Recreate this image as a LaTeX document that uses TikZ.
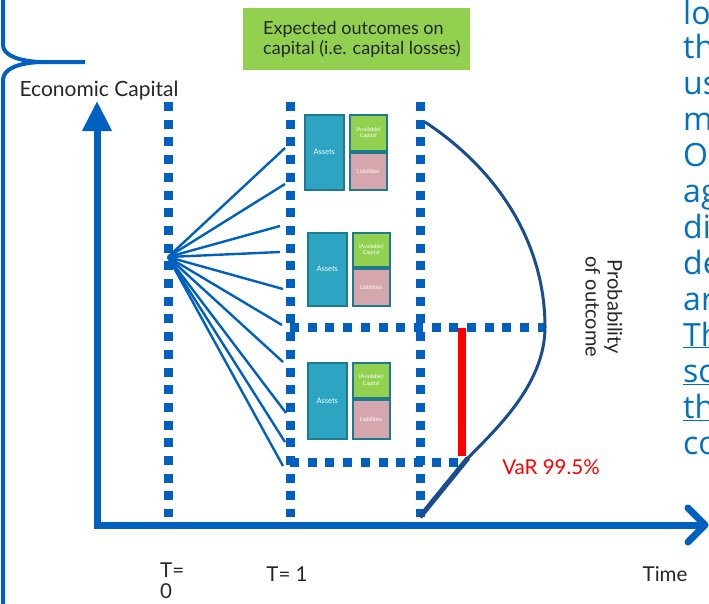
\documentclass[tikz,border=0pt]{standalone}
\usepackage{fontspec}
\setmainfont{Lato}
\newfontfamily\bluefont{Open Sans}
\usetikzlibrary{arrows.meta}
\definecolor{axisblue}{HTML}{0060C0}
\definecolor{curveblue}{HTML}{1A4D8F}
\definecolor{textblue}{HTML}{0070C0}
\definecolor{boxgreen}{HTML}{92D050}
\definecolor{assetteal}{HTML}{2CA4C2}
\definecolor{assetedge}{HTML}{1F7A8C}
\definecolor{liabpink}{HTML}{D5A6AE}
\definecolor{varred}{HTML}{FF0000}
\tikzset{
  axisline/.style={axisblue, line width=7pt},
  dotline/.style={axisblue, line width=9pt, dash pattern=on 9pt off 8.7pt},
  fanline/.style={axisblue, line width=2.4pt},
  assets/.style={draw=assetedge, line width=1.5pt, fill=assetteal, anchor=north west, inner sep=0pt, text=white, font=\fontsize{7.5}{8}\selectfont},
  capital/.style={draw=assetedge, line width=1.5pt, fill=boxgreen, anchor=north west, inner sep=0pt, text=white, align=center, font=\fontsize{5.5}{6.5}\selectfont},
  liab/.style={draw=assetedge, line width=1.5pt, fill=liabpink, anchor=north west, inner sep=0pt, text=white, font=\fontsize{5.5}{6.5}\selectfont},
  lbl/.style={text=black!85, font=\fontsize{20.5}{22}\selectfont, inner sep=0pt},
  bluetxt/.style={text=textblue, anchor=base west, inner sep=0pt, font=\bluefont\fontsize{32}{34}\selectfont}
}
\begin{document}
\begin{tikzpicture}[x=1pt,y=-1pt]
\useasboundingbox (0,0) rectangle (709,603);
% left brace
\draw[axisblue, line width=4pt] (3,-5) -- (3,45) .. controls (3,55) and (18,61) .. (40,62) -- (85,62);
\draw[axisblue, line width=4pt] (3,610) -- (3,80) .. controls (3,69) and (18,63) .. (40,62);
% green box
\node[fill=boxgreen, anchor=north west, minimum width=227pt, minimum height=62pt, inner sep=0pt] (gb) at (243,8) {};
\node[anchor=west, align=left, inner sep=0pt, text=black!85, font=\fontsize{18}{20}\selectfont] (gbt) at (263,39) {Expected outcomes on\\capital (i.e. capital losses)};
% axes
\coordinate (ytop) at (97,101);
\coordinate (orig) at (97,525);
\coordinate (xend) at (705,525);
\draw[axisline, {Triangle[length=30pt 0, width=28pt 0]}-] (ytop) -- (orig) -- (xend);
\draw[axisline, line cap=round, line join=round] (688,508) -- (xend) -- (688,542);
% dotted lines
\draw[dotline] (168,102) -- (168,517);
\draw[dotline] (290,102) -- (290,517);
\draw[dotline] (420,102) -- (420,517);
\draw[dotline] (290,327) -- (545,327);
\draw[dotline] (290,462) -- (458,462);
% fan
\coordinate (F) at (168,257);
\foreach \p in {(285,148),(285,184),(280,226),(280,252),(283,289),(282,325),(283,362),(286,413),(285,442),(283,466)}
  \draw[fanline] (F) -- \p;
% boxes
\node[assets, minimum width=39pt, minimum height=75pt] (a1) at (304,114) {Assets};
\node[capital, minimum width=37pt, minimum height=36pt] (c1) at (349,114) {(Available)\\Capital};
\node[liab, minimum width=37pt, minimum height=37pt] (l1) at (349,152) {Liabilities};
\node[assets, minimum width=39pt, minimum height=73pt] (a2) at (307,232) {Assets};
\node[capital, minimum width=37pt, minimum height=34pt] (c2) at (352,232) {(Available)\\Capital};
\node[liab, minimum width=37pt, minimum height=37pt] (l2) at (352,268) {Liabilities};
\node[assets, minimum width=39pt, minimum height=76pt] (a3) at (307,362) {Assets};
\node[capital, minimum width=37pt, minimum height=35pt] (c3) at (352,362) {(Available)\\Capital};
\node[liab, minimum width=37pt, minimum height=39pt] (l3) at (352,399) {Liabilities};
% curve
\coordinate (ctop) at (425,122);
\coordinate (cpeak) at (545,327);
\coordinate (cvar) at (466,460);
\coordinate (cbot) at (420,517);
\draw[curveblue, line width=3pt] (ctop) .. controls (505,175) and (545,250) .. (cpeak) .. controls (545,385) and (495,430) .. (cvar) -- (cbot);
\draw[curveblue, line width=5pt] (468,458) -- (cbot);
% red VaR
\draw[varred, line width=8pt] (462,328) -- (462,456);
% labels
\node[lbl, font=\fontsize{21}{22}\selectfont] (ec) at (99,91) {Economic Capital};
\node[lbl, rotate=-90, align=center, font=\fontsize{20}{22}\selectfont] (prob) at (604,307) {Probability\\of outcome};
\node[lbl, text=varred] (var) at (551,467) {VaR 99.5\%};
\node[lbl, anchor=north west, align=left, font=\fontsize{20.5}{21}\selectfont] (t0) at (160,563) {T=\\0};
\node[lbl] (t1) at (287,574) {T= 1};
\node[lbl] (time) at (665,574) {Time};
% right-hand text (cut off by the right edge, as in the reference)
\node[bluetxt] (r1) at (683,24) {lo};
\node[bluetxt] (r2) at (683,58) {th};
\node[bluetxt] (r3) at (683,94) {us};
\node[bluetxt] (r4) at (683,130) {m};
\node[bluetxt] (r5) at (683,166) {O};
\node[bluetxt] (r6) at (683,202) {ag};
\node[bluetxt] (r7) at (683,238) {di};
\node[bluetxt] (r8) at (683,274) {de};
\node[bluetxt] (r9) at (683,310) {ar};
\node[bluetxt] (r10) at (683,346) {\underline{Th}};
\node[bluetxt] (r11) at (683,382) {\underline{sc}};
\node[bluetxt] (r12) at (683,418) {\underline{th}};
\node[bluetxt] (r13) at (683,454) {co};
\end{tikzpicture}
\end{document}
